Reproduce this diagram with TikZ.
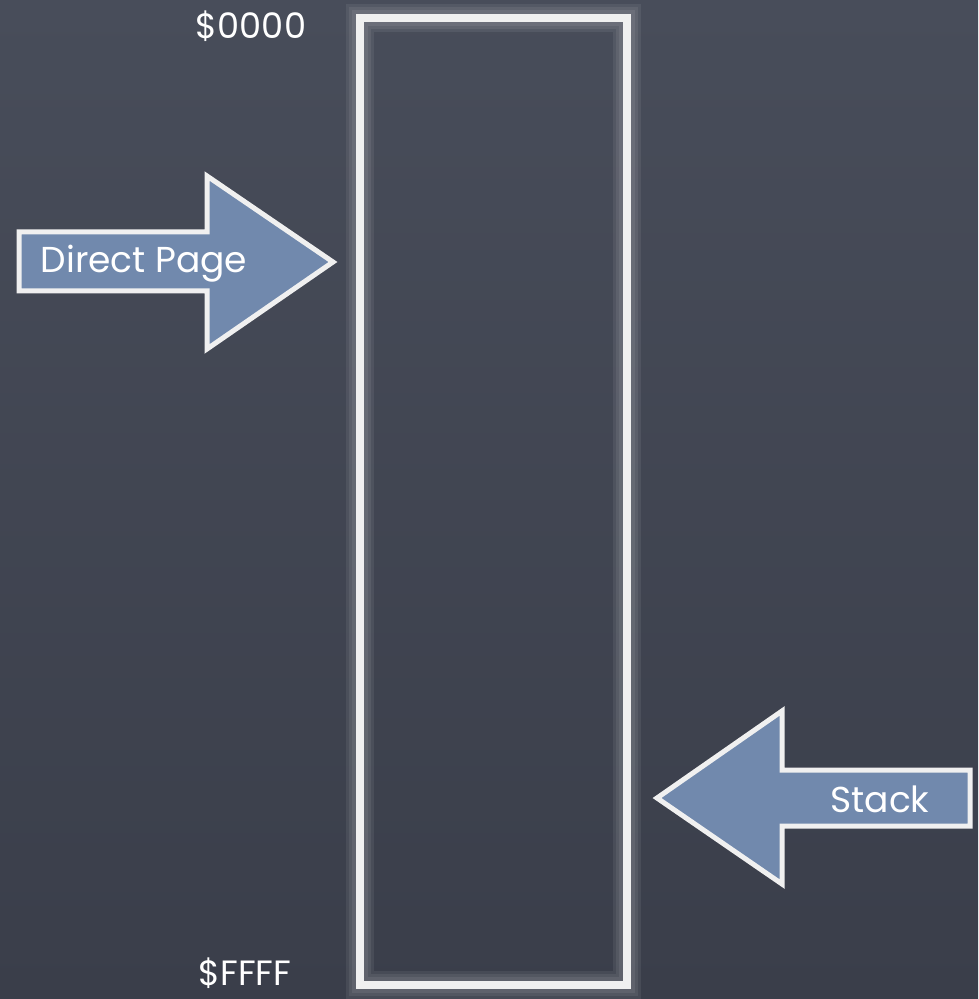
\documentclass[tikz,border=0pt]{standalone}
\usepackage{fontspec}
\setmainfont{Poppins}
\usetikzlibrary{positioning}
\definecolor{board}{HTML}{484D5A}
\definecolor{boarddark}{HTML}{3A3E4A}
\definecolor{chalk}{HTML}{F0F0F0}
\definecolor{arrowblue}{HTML}{7189AD}
\tikzstyle{mem}=[rectangle,draw=chalk,line width=0.16cm,minimum width=5.34cm,minimum height=19.34cm,inner sep=0pt]
\tikzstyle{glow}=[draw=white,opacity=0.07,rectangle,minimum width=5.34cm,minimum height=19.34cm,inner sep=0pt]
\tikzstyle{pointer}=[fill=arrowblue,draw=chalk,line width=0.1cm,line join=miter]
\tikzstyle{addr}=[text=white,font=\fontsize{20}{23}\selectfont,inner sep=1pt]
\tikzstyle{tag}=[text=white,font=\fontsize{20.5}{24}\selectfont]

\begin{document}
\begin{tikzpicture}[x=0.02cm,y=-0.02cm]
\shade[top color=board,bottom color=boarddark] (0,0) rectangle (978,999);
\useasboundingbox (0,0) rectangle (978,999);
% memory block
\foreach \w in {0.56,0.44,0.32}
  \node[glow,line width=\w cm] at (493.5,501.5) {};
\node[mem] (block) at (493.5,501.5) {};
\node[addr] (top) at (251,26) {\$0000};
\node[addr] (bottom) at (245,973) {\$FFFF};
% direct page pointer
\draw[pointer] (19,232) -- (207,232) -- (207,176) -- (333,262) -- (207,349) -- (207,291) -- (19,291) -- cycle;
\node[tag] (dp) at (144,264) {Direct Page};
% stack pointer
\draw[pointer] (970,770) -- (782,770) -- (782,711) -- (657,798) -- (782,884) -- (782,826) -- (970,826) -- cycle;
\node[tag] (sp) at (880,799) {Stack};
\end{tikzpicture}
\end{document}
